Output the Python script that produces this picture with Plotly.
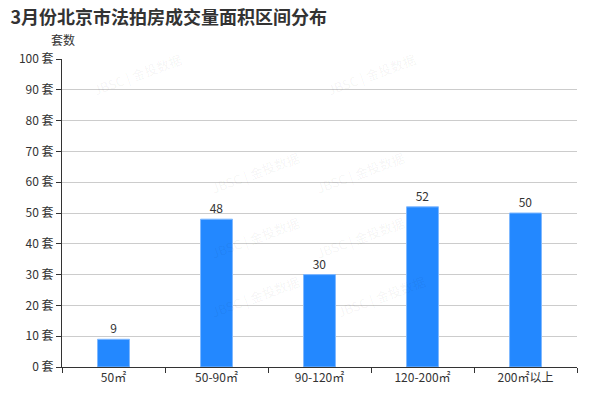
import plotly.graph_objects as go

categories = ["50㎡", "50-90㎡", "90-120㎡", "120-200㎡", "200㎡以上"]
values = [9, 48, 30, 52, 50]
y_ticks = [0, 10, 20, 30, 40, 50, 60, 70, 80, 90, 100]
y_tick_labels = [f"{v} 套" for v in y_ticks]

font_family = "Noto Sans CJK SC, Microsoft YaHei, sans-serif"

fig = go.Figure()
fig.add_trace(go.Bar(
    x=categories, y=values,
    width=0.31,
    marker=dict(color="#2388ff", line=dict(color="#7fb8ff", width=1)),
    text=[str(v) for v in values],
    textposition="outside",
    textfont=dict(size=12, color="#333333"),
    cliponaxis=False,
))

# faint watermarks
wm = [(0.05, 1.04), (0.6, 1.04), (0.28, 0.72), (0.58, 0.72), (0.28, 0.42), (0.58, 0.42), (0.28, 0.14), (0.62, 0.14)]
for (wx, wy) in wm:
    fig.add_annotation(xref="paper", yref="paper", x=wx, y=wy, text="JBSC | 金投数据",
                       showarrow=False, textangle=-20,
                       font=dict(size=13, color="rgba(0,0,0,0.05)", family=font_family))

fig.update_layout(
    width=600, height=400,
    margin=dict(l=54, r=31, t=51, b=41, pad=0),
    paper_bgcolor="white", plot_bgcolor="white",
    font=dict(family=font_family, size=12, color="#333333"),
    title=dict(text="<b>3月份北京市法拍房成交量面积区间分布</b>", x=0.004, xref="container", xanchor="left",
               y=0.975, yref="container", yanchor="middle", font=dict(size=18, color="#333333"),
               pad=dict(t=0, l=0, b=0, r=0)),
    showlegend=False,
    xaxis=dict(
        showline=True, linecolor="#333333", linewidth=1,
        ticks="outside", tickson="boundaries", ticklen=5, tickcolor="#333333",
        tickfont=dict(size=12, color="#333333"),
        showgrid=False,
    ),
    yaxis=dict(
        range=[0, 100], tickvals=y_ticks, ticktext=y_tick_labels,
        showline=True, linecolor="#333333", linewidth=1,
        ticks="outside", ticklen=5, tickcolor="#333333",
        showgrid=True, gridcolor="#cccccc", gridwidth=1,
        zeroline=False,
        tickfont=dict(size=12, color="#333333"),
    ),
)
fig.add_annotation(xref="paper", yref="paper", x=0.002, y=1.062, xanchor="center", yanchor="middle",
                   text="套数", showarrow=False, font=dict(size=12, color="#333333"))

fig.write_html("out.html")
